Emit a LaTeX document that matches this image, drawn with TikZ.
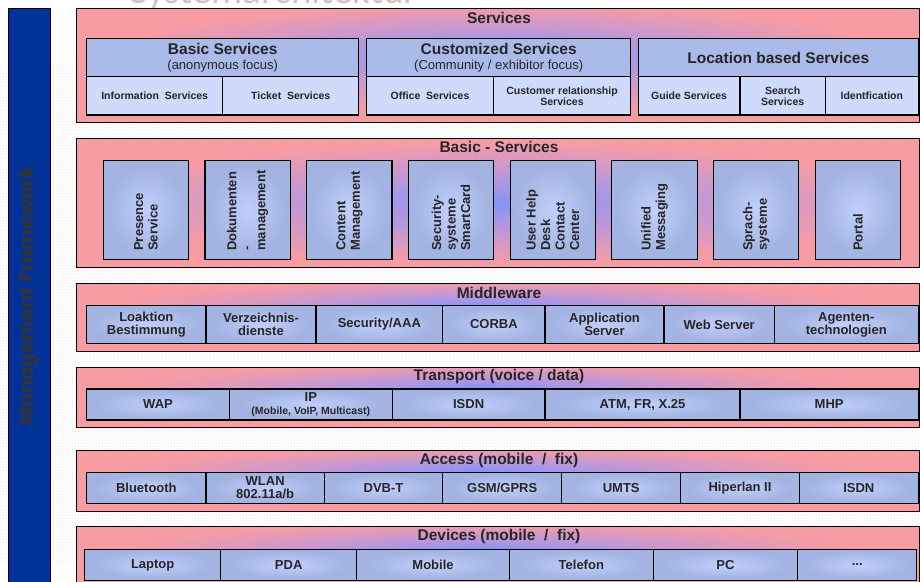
\documentclass[tikz,border=0pt]{standalone}
\usepackage{fontspec}
\setmainfont{Liberation Sans}
\newfontfamily\titlefont{Carlito}
\newfontfamily\mgmtfont{Poppins}
\usetikzlibrary{patterns}

\definecolor{layerpink}{RGB}{248,156,164}
\definecolor{layerpurple}{RGB}{200,152,208}
\definecolor{layerviolet}{RGB}{165,150,232}
\definecolor{layerblue}{RGB}{128,150,246}
\definecolor{celledge}{RGB}{164,180,226}
\definecolor{cellcentre}{RGB}{192,207,251}
\definecolor{cellflat}{RGB}{206,219,251}
\definecolor{headflat}{RGB}{170,186,233}
\definecolor{barblue}{RGB}{0,51,153}
\definecolor{inkgrey}{RGB}{38,38,40}
\definecolor{mgmtgrey}{RGB}{52,52,56}

% glow of the layer panels (the panel edge sits at 25bp of the shading):
% a narrow one for the thin layers, a wide one for the tall ones
\newcommand\thinstops{%
  color(0bp)=(layerblue); color(4.5bp)=(layerviolet); color(11bp)=(layerpurple);
  color(17bp)=(layerpink!55!layerpurple); color(23bp)=(layerpink); color(50bp)=(layerpink)}
\newcommand\widestops{%
  color(0bp)=(layerblue); color(6bp)=(layerviolet); color(13bp)=(layerpurple);
  color(19bp)=(layerpink!55!layerpurple); color(24bp)=(layerpink); color(50bp)=(layerpink)}
\pgfdeclareradialshading{glowhigh}{\pgfpoint{-1bp}{9bp}}{\thinstops}
\pgfdeclareradialshading{glowmid}{\pgfpoint{0bp}{5.5bp}}{\widestops}
\pgfdeclareradialshading{glowflat}{\pgfpoint{0bp}{0bp}}{\widestops}
% light centre of the component boxes
\pgfdeclareradialshading{cellglow}{\pgfpoint{0bp}{0bp}}{%
  color(0bp)=(cellcentre); color(22bp)=(celledge); color(50bp)=(celledge)}

\tikzset{
  layerbox/.style={draw=black, line width=1.1pt, inner sep=0pt},
  layertitle/.style={font=\bfseries\fontsize{15.5}{16}\selectfont, text=inkgrey, inner sep=0pt},
  cellbox/.style={draw=black, line width=1.2pt, shading=cellglow, text=inkgrey,
    font=\bfseries\fontsize{13}{13}\selectfont, align=center},
  flatcell/.style={draw=black, line width=1.2pt, fill=cellflat, text=inkgrey,
    font=\bfseries\fontsize{10.5}{11}\selectfont, align=center},
  headcell/.style={draw=black, line width=1.2pt, fill=headflat, text=inkgrey,
    font=\bfseries\fontsize{15.5}{16}\selectfont, align=center},
  vertlabel/.style={rotate=90, anchor=west, align=left, text=inkgrey, inner sep=0pt,
    font=\bfseries\fontsize{13}{14.5}\selectfont},
}

% \placebox{style}{name}{x1}{y1}{x2}{y2}{text}
\newcommand\placebox[7]{%
  \node[#1, minimum width={(#5-#3)*1pt}, minimum height={(#6-#4)*1pt}, inner sep=0pt]
    (#2) at ({(#3+#5)/2},{(#4+#6)/2}) {#7};}

% \layer{name}{y1}{y2}{title}{title y}{shading}
\newcommand\layer[6]{%
  \node[layerbox, shading=#6, minimum width=843pt, minimum height={(#3-#2)*1pt}, anchor=north west]
    (#1) at (76,#2) {};
  \node[layertitle] (#1-title) at (499,#5) {#4};}

\begin{document}
\begin{tikzpicture}[x=1pt, y=-1pt]
\useasboundingbox (0,0) rectangle (920,581);
\fill[white] (0,0) rectangle (920,581);

% faint raster in the background
\fill[pattern=dots, pattern color=black!22] (0,62) rectangle (920,562);

% heading, mostly cut off at the top edge
\node[anchor=base west, inner sep=0pt, text=black!22, font=\titlefont\fontsize{39}{39}\selectfont]
  (heading) at (130,3) {Systemarchitektur};

% management framework column
\node[draw=black, line width=1pt, fill=barblue, minimum width=42pt, minimum height=590pt,
  anchor=north west, inner sep=0pt] (mgmt) at (8,7.5) {};
\node[rotate=90, text=mgmtgrey, inner sep=0pt, font=\mgmtfont\bfseries\fontsize{19.8}{20}\selectfont]
  (mgmt-label) at (29,296) {Management Framework};

% ---------- Services ----------
\layer{svc}{8}{122}{Services}{18}{glowmid}
\placebox{headcell}{bs}{86.7}{38.3}{358.7}{76.7}{Basic Services\\[-1pt]{\mdseries\fontsize{13}{13}\selectfont(anonymous focus)}}
\placebox{flatcell}{bs1}{86.7}{76.7}{222.7}{115}{Information~ Services}
\placebox{flatcell}{bs2}{222.7}{76.7}{358.7}{115}{Ticket~ Services}
\placebox{headcell}{cs}{366.7}{38.3}{630.7}{76.7}{Customized Services\\[-1pt]{\mdseries\fontsize{13}{13}\selectfont(Community / exhibitor focus)}}
\placebox{flatcell}{cs1}{366.7}{76.7}{493.3}{115}{Office~ Services}
\placebox{flatcell}{cs2}{493.3}{76.7}{630.7}{115}{Customer relationship\\Services}
\placebox{headcell}{ls}{638.3}{38.3}{918.3}{76.7}{Location based Services}
\placebox{flatcell}{ls1}{638.3}{76.7}{740}{115}{Guide Services}
\placebox{flatcell}{ls2}{740}{76.7}{825.3}{115}{Search\\Services}
\placebox{flatcell}{ls3}{825.3}{76.7}{918.3}{115}{Identfication}

% ---------- Basic - Services ----------
\layer{base}{138}{266.7}{Basic - Services}{147}{glowflat}
\foreach \name/\k/\txt in {
    presence/0/{Presence\\Service},
    docs/1/{Dokumenten\\-\\management},
    content/2/{Content\\Management},
    security/3/{Security-\\systeme\\SmartCard},
    helpdesk/4/{User Help\\Desk\\Contact\\Center},
    messaging/5/{Unified\\Messaging},
    speech/6/{Sprach-\\systeme},
    portal/7/{Portal}} {
  \pgfmathsetmacro\xa{103.3+101.7*\k}
  \pgfmathsetmacro\xb{\xa+85.3}
  \placebox{cellbox}{\name}{\xa}{160.7}{\xb}{259.3}{}
  \node[vertlabel] (\name-text) at ([yshift=9pt]\name.south) {\txt};
}

% ---------- Middleware ----------
\layer{mw}{282.7}{351}{Middleware}{292.7}{glowhigh}
\placebox{cellbox}{mw1}{86.7}{305.7}{206}{343.3}{Loaktion\\Bestimmung}
\placebox{cellbox}{mw2}{206}{305.7}{316}{343.3}{Verzeichnis-\\dienste}
\placebox{cellbox}{mw3}{316}{305.7}{442.7}{343.3}{Security/AAA}
\placebox{cellbox}{mw4}{442.7}{305.7}{545}{343.3}{CORBA}
\placebox{cellbox}{mw5}{545}{305.7}{664}{343.3}{Application\\Server}
\placebox{cellbox}{mw6}{664}{305.7}{774.3}{343.3}{Web Server}
\placebox{cellbox}{mw7}{774.3}{305.7}{918.3}{343.3}{Agenten-\\technologien}

% ---------- Transport ----------
\layer{tr}{366.7}{427.3}{Transport (voice / data)}{376.7}{glowhigh}
\placebox{cellbox}{tr1}{86.7}{389}{229.3}{420}{WAP}
\placebox{cellbox}{tr2}{229.3}{389}{392.3}{420}{IP\\{\fontsize{10.5}{11}\selectfont(Mobile, VoIP, Multicast)}}
\placebox{cellbox}{tr3}{392.3}{389}{545}{420}{ISDN}
\placebox{cellbox}{tr4}{545}{389}{740}{420}{ATM, FR, X.25}
\placebox{cellbox}{tr5}{740}{389}{918.3}{420}{MHP}

% ---------- Access ----------
\layer{acc}{450}{511}{Access (mobile~ /~ fix)}{460.7}{glowhigh}
\placebox{cellbox}{acc1}{86.7}{472.7}{206}{503.3}{Bluetooth}
\placebox{cellbox}{acc2}{206}{472.7}{324.3}{503.3}{\fontsize{13}{12}\selectfont WLAN\\802.11a/b}
\placebox{cellbox}{acc3}{324.3}{472.7}{442.7}{503.3}{DVB-T}
\placebox{cellbox}{acc4}{442.7}{472.7}{561.7}{503.3}{GSM/GPRS}
\placebox{cellbox}{acc5}{561.7}{472.7}{680.7}{503.3}{UMTS}
\placebox{cellbox}{acc6}{680.7}{472.7}{799.3}{503.3}{Hiperlan II}
\placebox{cellbox}{acc7}{799.3}{472.7}{918.3}{503.3}{ISDN}

% ---------- Devices ----------
\layer{dev}{526}{596}{Devices (mobile~ /~ fix)}{536.7}{glowhigh}
\placebox{cellbox}{dev1}{84.7}{549.3}{220.7}{580.5}{Laptop}
\placebox{cellbox}{dev2}{220.7}{549.3}{356.7}{580.5}{PDA}
\placebox{cellbox}{dev3}{356.7}{549.3}{509.3}{580.5}{Mobile}
\placebox{cellbox}{dev4}{509.3}{549.3}{653.3}{580.5}{Telefon}
\placebox{cellbox}{dev5}{653.3}{549.3}{797.7}{580.5}{PC}
\placebox{cellbox}{dev6}{797.7}{549.3}{916.7}{580.5}{...}
\end{tikzpicture}
\end{document}
